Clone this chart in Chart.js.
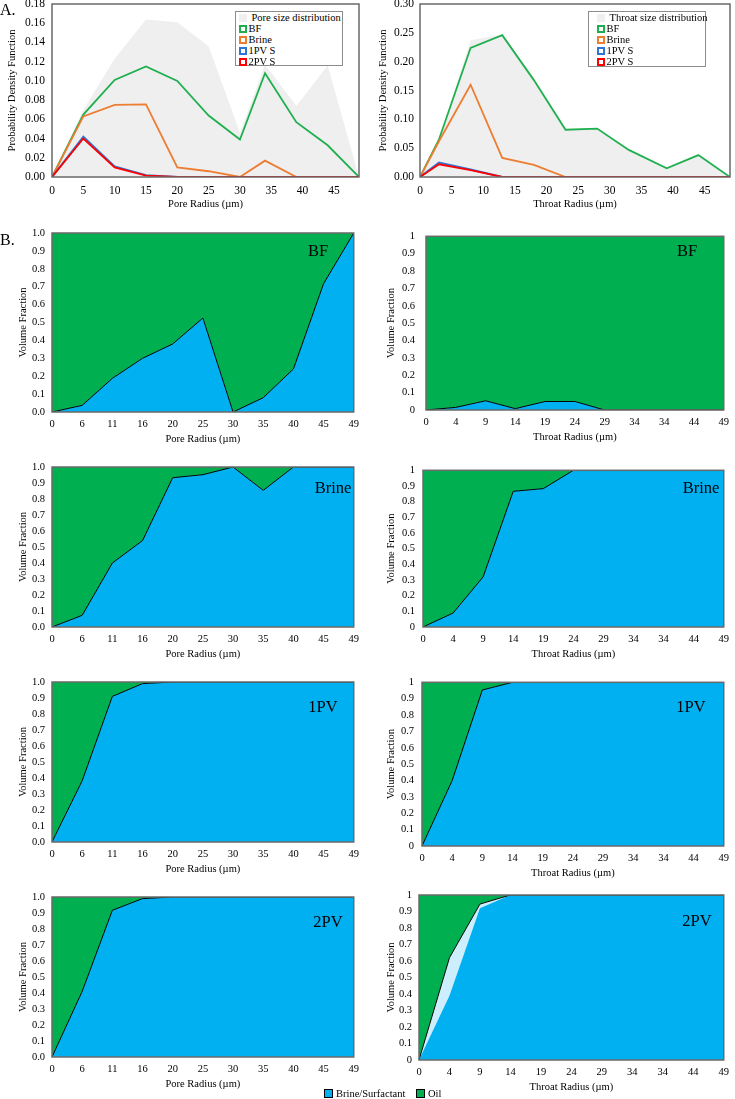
<!DOCTYPE html>
<html><head><meta charset="utf-8">
<script src="https://cdn.jsdelivr.net/npm/chart.js@4.4.1/dist/chart.umd.min.js"></script>
<style>
body{margin:0;width:735px;height:1099px;position:relative;background:#fff;font-family:'Liberation Serif','Times New Roman',serif;overflow:hidden}
canvas{position:absolute}
.t{position:absolute;white-space:nowrap;color:#000;line-height:1}
.c{transform:translate(-50%,-50%)}
.lg{position:absolute;background:#fff;border:1px solid #8c8c8c;box-sizing:border-box}
.mk{position:absolute;width:8px;height:8px;box-sizing:border-box;background:#fff}
.lt{position:absolute;font-size:10.5px;white-space:nowrap;line-height:1;transform:translateY(-50%)}
</style></head><body>
<script>
// ---------- A. probability density functions ----------
const poreRadiusA   = [0, 5, 10, 15, 20, 25, 30, 34, 39, 44, 49];
const poreSizeDist  = [0, 0.070, 0.123, 0.164, 0.161, 0.136, 0.046, 0.117, 0.074, 0.116, 0];
const porePdfBF     = [0, 0.065, 0.101, 0.115, 0.100, 0.064, 0.039, 0.108, 0.057, 0.033, 0];
const porePdfBrine  = [0, 0.063, 0.075, 0.0755, 0.010, 0.006, 0, 0.017, 0, 0, 0];
const porePdf1PV    = [0, 0.042, 0.011, 0.002, 0, 0, 0, 0, 0, 0, 0];
const porePdf2PV    = [0, 0.040, 0.010, 0.0015, 0, 0, 0, 0, 0, 0, 0];
const poreXTicksA   = [0, 5, 10, 15, 20, 25, 30, 35, 40, 45];
const poreYTicksA   = [0, 0.02, 0.04, 0.06, 0.08, 0.10, 0.12, 0.14, 0.16, 0.18];

const throatRadiusA  = [0, 3, 8, 13, 18, 23, 28, 33, 39, 44, 49];
const throatSizeDist = [0, 0.065, 0.237, 0.247, 0.168, 0.082, 0.084, 0.047, 0.015, 0.038, 0];
const throatPdfBF    = [0, 0.065, 0.224, 0.246, 0.168, 0.082, 0.084, 0.047, 0.015, 0.038, 0];
const throatPdfBrine = [0, 0.062, 0.160, 0.033, 0.021, 0, 0, 0, 0, 0, 0];
const throatPdf1PV   = [0, 0.025, 0.013, 0, 0, 0, 0, 0, 0, 0, 0];
const throatPdf2PV   = [0, 0.022, 0.012, 0, 0, 0, 0, 0, 0, 0, 0];
const throatXTicksA  = [0, 5, 10, 15, 20, 25, 30, 35, 40, 45];
const throatYTicksA  = [0, 0.05, 0.10, 0.15, 0.20, 0.25, 0.30];

// ---------- B. volume fractions (Brine/Surfactant; Oil fills the rest) ----------
const poreLabels   = ['0','6','11','16','20','25','30','35','40','45','49'];
const throatLabels = ['0','4','9','14','19','24','29','34','34','44','49'];
const fracTicks    = [0, 0.1, 0.2, 0.3, 0.4, 0.5, 0.6, 0.7, 0.8, 0.9, 1.0];

const poreBF      = [0, 0.037, 0.188, 0.30, 0.38, 0.525, 0, 0.08, 0.24, 0.717, 1.0];
const throatBF    = [0, 0.015, 0.053, 0.008, 0.049, 0.049, 0, 0, 0, 0, 0];
const poreBrine   = [0, 0.073, 0.40, 0.54, 0.933, 0.952, 1, 0.854, 1, 1, 1];
const throatBrine = [0, 0.089, 0.32, 0.866, 0.883, 1, 1, 1, 1, 1, 1];
const pore1PV     = [0, 0.383, 0.91, 0.99, 1, 1, 1, 1, 1, 1, 1];
const throat1PV   = [0, 0.40, 0.953, 1, 1, 1, 1, 1, 1, 1, 1];
const pore2PV     = [0, 0.41, 0.917, 0.99, 1, 1, 1, 1, 1, 1, 1];
const throat2PVLower = [0, 0.39, 0.92, 1, 1, 1, 1, 1, 1, 1, 1];
const throat2PVUpper = [0, 0.62, 0.945, 1, 1, 1, 1, 1, 1, 1, 1];

// ---------- colours ----------
const GREEN = '#00B050', BLUE = '#00B0F0', LIGHTBLUE = '#CDEEFC';
const C_BF = '#1FAF4F', C_BRINE = '#ED7D31', C_1PV = '#2E75D6', C_2PV = '#FF0000', C_DIST = '#EFEFEF';

Chart.defaults.font.family = "'Liberation Serif','Times New Roman',serif";
Chart.defaults.color = '#000';

const framePlugin = {
  id: 'frame',
  afterDraw(chart) {
    const {ctx, chartArea: a} = chart;
    ctx.save();
    ctx.strokeStyle = '#6a6a6a';
    ctx.lineWidth = 1.5;
    ctx.strokeRect(a.left, a.top, a.right - a.left, a.bottom - a.top);
    ctx.restore();
  }
};

function mk(spec) {
  const boxT = spec.t - 14, boxB = spec.b + 36;
  const W = spec.boxR - spec.boxL, H = boxB - boxT;
  const cv = document.createElement('canvas');
  cv.width = W; cv.height = H;
  cv.style.left = spec.boxL + 'px'; cv.style.top = boxT + 'px';
  cv.style.width = W + 'px'; cv.style.height = H + 'px';
  document.body.appendChild(cv);
  return new Chart(cv, {
    type: 'line',
    data: spec.data,
    options: {
      responsive: false, animation: false, devicePixelRatio: 1,
      layout: {padding: {top: spec.t - boxT, right: spec.boxR - spec.r, left: 0, bottom: 0}},
      plugins: {legend: {display: false}, tooltip: {enabled: false}},
      elements: {point: {radius: 0}, line: {tension: 0}},
      scales: {
        x: Object.assign({
          grid: {display: false, drawTicks: false}, border: {display: false},
          ticks: {font: {size: spec.xFont || 10.5}, color: '#000', padding: spec.xPad, autoSkip: false, maxRotation: 0, minRotation: 0},
          title: {display: true, text: spec.xTitle, font: {size: 10.5}, color: '#000', padding: {top: 0, bottom: 2}},
          afterFit: s => { s.height = 36; }
        }, spec.x || {}),
        y: {
          min: 0, max: spec.yTicks[spec.yTicks.length - 1],
          grid: {display: false, drawTicks: false}, border: {display: false},
          ticks: {font: {size: spec.yFont || 10.5}, color: '#000', padding: spec.yPad, callback: spec.yFmt},
          afterBuildTicks: s => { s.ticks = spec.yTicks.map(v => ({value: v})); },
          title: {display: true, text: spec.yTitle, font: {size: 10.5}, color: '#000', padding: {top: spec.yTitlePad, bottom: 0}},
          afterFit: s => { s.width = spec.l - spec.boxL; }
        }
      }
    },
    plugins: [framePlugin]
  });
}

function xy(xs, ys) { return xs.map((x, i) => ({x: x, y: ys[i]})); }

function pdfData(xs, dist, bf, brine, pv1, pv2) {
  return {datasets: [
    {label: 'size distribution', data: xy(xs, dist), fill: 'origin', backgroundColor: C_DIST, borderWidth: 0, order: 10},
    {label: 'BF', data: xy(xs, bf), borderColor: C_BF, borderWidth: 1.8, fill: false, order: 4},
    {label: 'Brine', data: xy(xs, brine), borderColor: C_BRINE, borderWidth: 1.8, fill: false, order: 3},
    {label: '1PV S', data: xy(xs, pv1), borderColor: C_1PV, borderWidth: 1.8, fill: false, order: 2},
    {label: '2PV S', data: xy(xs, pv2), borderColor: C_2PV, borderWidth: 1.8, fill: false, order: 1}
  ]};
}

function linX(ticks) {
  return {type: 'linear', min: 0, max: 49, afterBuildTicks: s => { s.ticks = ticks.map(v => ({value: v})); }};
}

// A left
mk({boxL: 0, boxR: 365, l: 52, t: 4, r: 359, b: 177,
  xPad: 7, yPad: 7, xFont: 11.5, yFont: 11.5, yTitlePad: 6,
  xTitle: 'Pore Radius (µm)', yTitle: 'Probability Density Function',
  yTicks: poreYTicksA, yFmt: v => v.toFixed(2), x: linX(poreXTicksA),
  data: pdfData(poreRadiusA, poreSizeDist, porePdfBF, porePdfBrine, porePdf1PV, porePdf2PV)});
// A right
mk({boxL: 365, boxR: 735, l: 420, t: 4, r: 730, b: 177,
  xPad: 7, yPad: 6, xFont: 11.5, yFont: 11.5, yTitlePad: 12,
  xTitle: 'Throat Radius (µm)', yTitle: 'Probability Density Function',
  yTicks: throatYTicksA, yFmt: v => v.toFixed(2), x: linX(throatXTicksA),
  data: pdfData(throatRadiusA, throatSizeDist, throatPdfBF, throatPdfBrine, throatPdf1PV, throatPdf2PV)});

function fracData(labels, total, lower) {
  const ds = [
    {label: 'Oil', data: total, fill: 'end', backgroundColor: GREEN, borderWidth: 0, order: 5}
  ];
  if (lower) {
    ds.push({label: 'Surfactant', data: total, fill: 'origin', backgroundColor: LIGHTBLUE, borderWidth: 0, order: 4});
    ds.push({label: 'Brine/Surfactant', data: lower, fill: 'origin', backgroundColor: BLUE, borderWidth: 0, order: 3});
  } else {
    ds.push({label: 'Brine/Surfactant', data: total, fill: 'origin', backgroundColor: BLUE, borderWidth: 0, order: 3});
  }
  ds.push({label: 'boundary', data: total, fill: false, borderColor: '#000', borderWidth: 1, order: 1});
  return {labels: labels, datasets: ds};
}

const fmtLeft = v => v.toFixed(1);
const fmtRight = v => (v === 0 ? '0' : v >= 0.999 ? '1' : v.toFixed(1));

const leftRows = [
  {t: 233, b: 412, d: poreBF},
  {t: 467, b: 627, d: poreBrine},
  {t: 682, b: 842, d: pore1PV},
  {t: 897, b: 1057, d: pore2PV}
];
const rightRows = [
  {l: 426, t: 233, r: 730, b: 410, pad: 11, d: throatBF},
  {l: 423, t: 470, r: 729, b: 627, pad: 8, d: throatBrine},
  {l: 422, t: 682, r: 726, b: 846, pad: 8, d: throat1PV},
  {l: 419, t: 895, r: 724, b: 1060, pad: 7, d: throat2PVUpper, lower: throat2PVLower}
];
leftRows.forEach(rw => mk({boxL: 0, boxR: 365, l: 52, t: rw.t, r: 359, b: rw.b,
  xPad: 6, yPad: 7, yTitlePad: 17, xTitle: 'Pore Radius (µm)', yTitle: 'Volume Fraction',
  yTicks: fracTicks, yFmt: fmtLeft, x: {type: 'category', offset: false},
  data: fracData(poreLabels, rw.d)}));
rightRows.forEach(rw => mk({boxL: 365, boxR: 735, l: rw.l, t: rw.t, r: rw.r, b: rw.b,
  xPad: 6, yPad: rw.pad, yTitlePad: 20, xTitle: 'Throat Radius (µm)', yTitle: 'Volume Fraction',
  yTicks: fracTicks, yFmt: fmtRight, x: {type: 'category', offset: false},
  data: fracData(throatLabels, rw.d, rw.lower)}));

// ---------- text overlays ----------
function txt(s, x, y, size, center) {
  const d = document.createElement('div');
  d.className = 't' + (center ? ' c' : '');
  d.textContent = s;
  d.style.left = x + 'px'; d.style.top = y + 'px'; d.style.fontSize = size + 'px';
  document.body.appendChild(d);
}
txt('A.', 0, 2, 16, false);
txt('B.', 0, 232, 16, false);
const panelTags = [
  ['BF', 318, 251], ['BF', 687, 251],
  ['Brine', 333, 488], ['Brine', 701, 488],
  ['1PV', 323, 707], ['1PV', 691, 707],
  ['2PV', 328, 922], ['2PV', 697, 921]
];
panelTags.forEach(p => txt(p[0], p[1], p[2], 16.5, true));

function legendA(left, top, w, h, mkOff, txtOff, title, entries) {
  const box = document.createElement('div');
  box.className = 'lg';
  Object.assign(box.style, {left: left + 'px', top: top + 'px', width: w + 'px', height: h + 'px'});
  document.body.appendChild(box);
  const rows = [[title, null]].concat(entries);
  rows.forEach((e, i) => {
    const cy = 6 + i * 10.9;
    const m = document.createElement('div');
    m.className = 'mk';
    m.style.left = mkOff + 'px'; m.style.top = (cy - 4) + 'px';
    if (e[1]) { m.style.borderStyle = 'solid'; m.style.borderWidth = '2px'; m.style.borderColor = e[1]; }
    else { m.style.background = C_DIST; }
    box.appendChild(m);
    const t = document.createElement('div');
    t.className = 'lt';
    t.textContent = e[0];
    t.style.left = (e[1] ? txtOff : txtOff + 3) + 'px'; t.style.top = cy + 'px';
    box.appendChild(t);
  });
}
const pdfEntries = [['BF', C_BF], ['Brine', C_BRINE], ['1PV S', C_1PV], ['2PV S', C_2PV]];
legendA(235, 11, 108, 55, 3, 12.5, 'Pore size distribution', pdfEntries);
legendA(588, 11, 118, 56, 8, 17.5, 'Throat size distribution', pdfEntries);

// bottom legend
function swatch(x, y, col) {
  const d = document.createElement('div');
  Object.assign(d.style, {position: 'absolute', left: x + 'px', top: y + 'px', width: '9px', height: '9px',
    background: col, border: '1px solid #000', boxSizing: 'border-box'});
  document.body.appendChild(d);
}
swatch(324, 1089, BLUE);
swatch(416, 1089, GREEN);
const lb = (s, x) => { const d = document.createElement('div'); d.className = 'lt'; d.textContent = s;
  d.style.left = x + 'px'; d.style.top = '1094px'; document.body.appendChild(d); };
lb('Brine/Surfactant', 336);
lb('Oil', 428);
</script>
</body></html>
